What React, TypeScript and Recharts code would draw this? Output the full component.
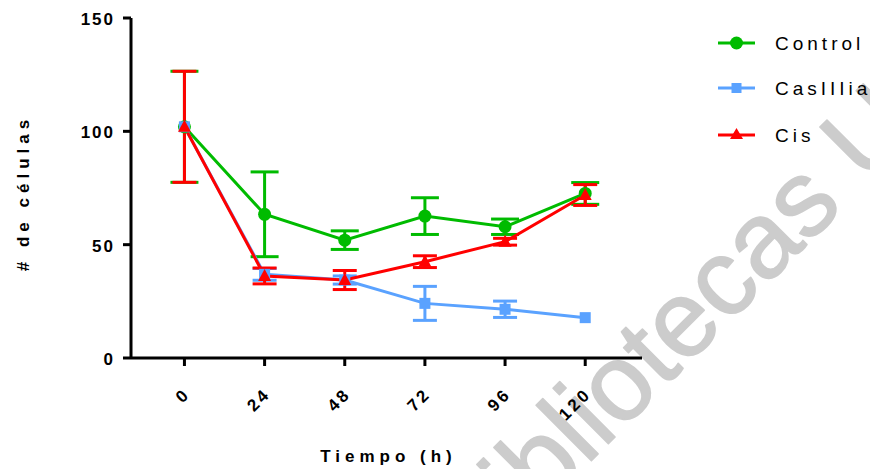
import React from 'react';
import { LineChart, Line, XAxis, YAxis, ErrorBar, Legend, Label } from 'recharts';

// tiempos de medición (h)
const times = [0, 24, 48, 72, 96, 120];
const yTicks = [0, 50, 100, 150];

// medias y desviaciones
const controlMean = [102, 63.4, 52, 62.6, 57.9, 72.6];
const controlSd = [24.5, 18.7, 4.1, 8.1, 3.4, 4.8];
const casMean = [102, 36.9, 34.4, 24.1, 21.5, 17.8];
const casSd = [0, 2.6, 1.8, 7.5, 3.6, 0];
const cisMean = [102, 36.2, 34.4, 42.5, 51.3, 71.9];
const cisSd = [24.5, 3.5, 4.2, 2.6, 1.5, 4.6];

const seriesNames = ['Control', 'CasIIIia', 'Cis'];

const GREEN = '#00BB00';
const BLUE = '#5AA2FF';
const RED = '#FF0000';
const FONT = '"Liberation Sans", Arial, sans-serif';

const data = times.map((t, i) => ({
  t,
  control: controlMean[i],
  controlErr: controlSd[i],
  cas: casMean[i],
  casErr: casSd[i],
  cis: cisMean[i],
  cisErr: cisSd[i],
}));

const circleDot = (p: any) => {
  if (p.cx == null || p.cy == null) return <g key={`c-${p.index}`} />;
  return <circle key={`c-${p.index}`} cx={p.cx} cy={p.cy} r={6.5} fill={GREEN} />;
};

const squareDot = (p: any) => {
  if (p.cx == null || p.cy == null) return <g key={`s-${p.index}`} />;
  return <rect key={`s-${p.index}`} x={p.cx - 5.5} y={p.cy - 5.5} width={11} height={11} fill={BLUE} />;
};

const triangleDot = (p: any) => {
  if (p.cx == null || p.cy == null) return <g key={`t-${p.index}`} />;
  const { cx, cy } = p;
  return (
    <polygon
      key={`t-${p.index}`}
      points={`${cx},${cy - 7} ${cx + 6.5},${cy + 5} ${cx - 6.5},${cy + 5}`}
      fill={RED}
    />
  );
};

const XTick = (props: any) => {
  const { x, y, payload } = props;
  const px = x + 7;
  const py = y + 27;
  return (
    <text
      x={px}
      y={py}
      transform={`rotate(-45, ${px}, ${py})`}
      textAnchor="end"
      fontFamily={FONT}
      fontWeight="bold"
      fontSize={17}
      letterSpacing={3}
      fill="#000"
    >
      {payload.value}
    </text>
  );
};

const YTick = (props: any) => {
  const { x, y, payload } = props;
  return (
    <text
      x={x - 6}
      y={y + 7}
      textAnchor="end"
      fontFamily={FONT}
      fontWeight="bold"
      fontSize={17}
      letterSpacing={2}
      fill="#000"
    >
      {payload.value}
    </text>
  );
};

const renderLegend = () => {
  const rows = [
    { name: seriesNames[0], color: GREEN, y: 43 },
    { name: seriesNames[1], color: BLUE, y: 88 },
    { name: seriesNames[2], color: RED, y: 135 },
  ];
  return (
    <svg width={160} height={160} style={{ display: 'block' }}>
      {rows.map((r, i) => (
        <g key={r.name}>
          <line x1={8} x2={45} y1={r.y} y2={r.y} stroke={r.color} strokeWidth={3} />
          {i === 0 && <circle cx={26.5} cy={r.y} r={6.5} fill={r.color} />}
          {i === 1 && <rect x={21.5} y={r.y - 5} width={10} height={10} fill={r.color} />}
          {i === 2 && (
            <polygon
              points={`${26.5},${r.y - 7} ${33},${r.y + 4} ${20},${r.y + 4}`}
              fill={r.color}
            />
          )}
          <text x={65} y={r.y + 7} fontFamily={FONT} fontSize={19} letterSpacing={4} fill="#000">
            {r.name}
          </text>
        </g>
      ))}
    </svg>
  );
};

export default function App() {
  return (
    <div style={{ position: 'absolute', left: 0, top: 0, width: 870, height: 469, background: '#fff', overflow: 'hidden' }}>
      <svg
        width={870}
        height={469}
        style={{ position: 'absolute', left: 0, top: 0 }}
      >
        <text
          x={476}
          y={576}
          transform="rotate(-45, 476, 576)"
          fontFamily={FONT}
          fontSize={108}
          fill="#CCCCCC"
          stroke="#CCCCCC"
          strokeWidth={1.5}
          strokeLinejoin="round"
        >
          Bibliotecas UNAM
        </text>
      </svg>
      <div style={{ position: 'absolute', left: 0, top: 0 }}>
        <LineChart
          width={870}
          height={469}
          data={data}
          margin={{ top: 18, right: 228, bottom: 51, left: 71 }}
        >
          <XAxis
            dataKey="t"
            type="number"
            domain={[-16, 137]}
            ticks={times}
            allowDataOverflow
            height={60}
            axisLine={{ stroke: '#000', strokeWidth: 3 }}
            tickLine={{ stroke: '#000', strokeWidth: 3 }}
            tickSize={8}
            tick={<XTick />}
          >
            <Label
              content={(p: any) => {
                const vb = p.viewBox;
                return (
                  <text
                    x={vb.x + vb.width / 2 + 2}
                    y={vb.y + 104}
                    textAnchor="middle"
                    fontFamily={FONT}
                    fontWeight="bold"
                    fontSize={17}
                    letterSpacing={5}
                    fill="#000"
                  >
                    Tiempo (h)
                  </text>
                );
              }}
            />
          </XAxis>
          <YAxis
            type="number"
            domain={[0, 150]}
            ticks={yTicks}
            width={60}
            axisLine={{ stroke: '#000', strokeWidth: 3 }}
            tickLine={{ stroke: '#000', strokeWidth: 3 }}
            tickSize={8}
            tick={<YTick />}
          >
            <Label
              content={(p: any) => {
                const vb = p.viewBox;
                const cx = vb.x - 42;
                const cy = vb.y + vb.height / 2 + 5;
                return (
                  <text
                    x={cx}
                    y={cy}
                    transform={`rotate(-90, ${cx}, ${cy})`}
                    textAnchor="middle"
                    fontFamily={FONT}
                    fontWeight="bold"
                    fontSize={17}
                    letterSpacing={5}
                    fill="#000"
                  >
                    # de células
                  </text>
                );
              }}
            />
          </YAxis>
          <Legend
            layout="horizontal"
            verticalAlign="middle"
            align="center"
            content={renderLegend}
            wrapperStyle={{ position: 'absolute', left: 710, top: 0, width: 160 }}
          />
          <Line
            type="linear"
            dataKey="control"
            name={seriesNames[0]}
            stroke={GREEN}
            strokeWidth={3}
            dot={circleDot}
            activeDot={false}
            isAnimationActive={false}
          >
            <ErrorBar dataKey="controlErr" direction="y" width={14} strokeWidth={3} stroke={GREEN} />
          </Line>
          <Line
            type="linear"
            dataKey="cas"
            name={seriesNames[1]}
            stroke={BLUE}
            strokeWidth={3}
            dot={squareDot}
            activeDot={false}
            isAnimationActive={false}
          >
            <ErrorBar dataKey="casErr" direction="y" width={12} strokeWidth={3} stroke={BLUE} />
          </Line>
          <Line
            type="linear"
            dataKey="cis"
            name={seriesNames[2]}
            stroke={RED}
            strokeWidth={3}
            dot={triangleDot}
            activeDot={false}
            isAnimationActive={false}
          >
            <ErrorBar dataKey="cisErr" direction="y" width={12} strokeWidth={3} stroke={RED} />
          </Line>
        </LineChart>
      </div>
    </div>
  );
}
